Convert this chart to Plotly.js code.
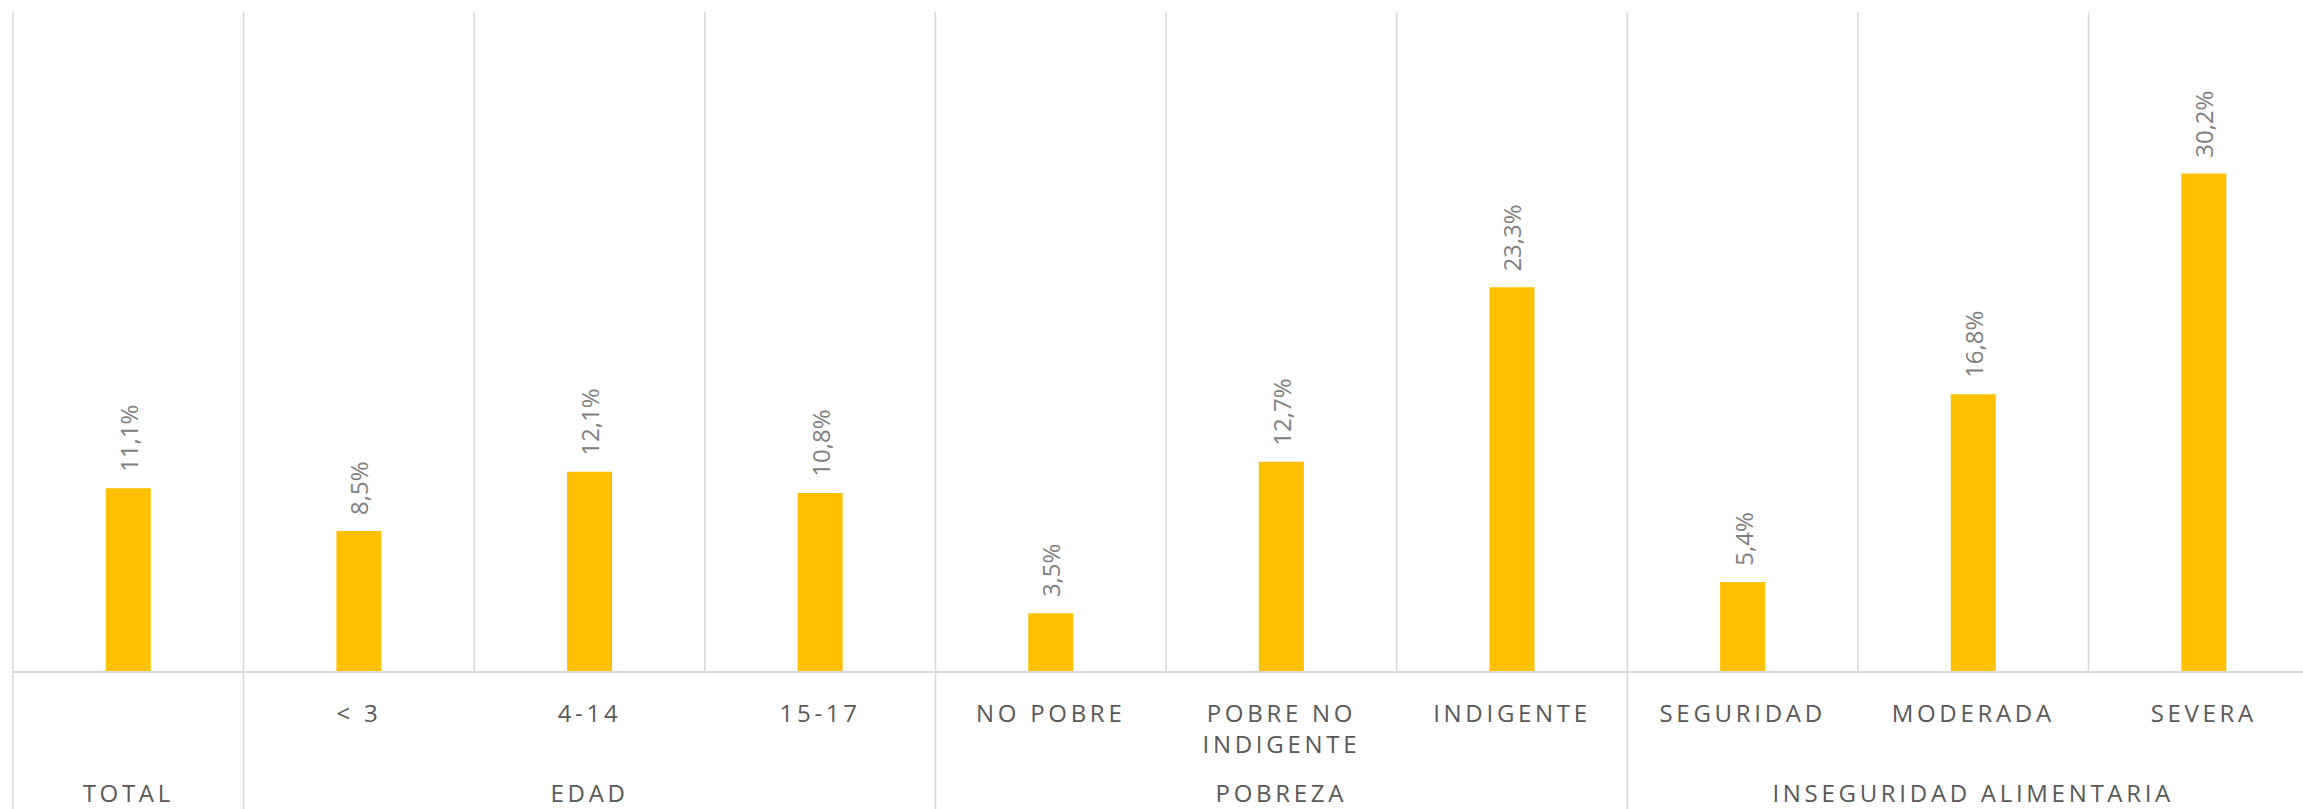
<!DOCTYPE html>
<html>
<head>
<meta charset="utf-8">
<script src="https://cdn.plot.ly/plotly-3.0.1.min.js"></script>
<style>
  html, body { margin: 0; padding: 0; background: #ffffff; }
  #chart { width: 2303px; height: 809px; }
  .xtick text, .x2tick text { letter-spacing: 3.7px; }
</style>
</head>
<body>
<div id="chart"></div>
<script>
// ---- data ----
const groups = ['TOTAL', 'EDAD', 'EDAD', 'EDAD', 'POBREZA', 'POBREZA', 'POBREZA',
                'INSEGURIDAD ALIMENTARIA', 'INSEGURIDAD ALIMENTARIA', 'INSEGURIDAD ALIMENTARIA'];
const subLabels = ['', '< 3', '4-14', '15-17', 'NO POBRE', 'POBRE NO<br>INDIGENTE', 'INDIGENTE',
                   'SEGURIDAD', 'MODERADA', 'SEVERA'];
const values = [11.1, 8.5, 12.1, 10.8, 3.5, 12.7, 23.3, 5.4, 16.8, 30.2];
const valueLabels = ['11,1%', '8,5%', '12,1%', '10,8%', '3,5%', '12,7%', '23,3%', '5,4%', '16,8%', '30,2%'];

// ---- derived ----
const idx = values.map((_, i) => i);
const xRange = [-0.5, 9.43];
const toPaper = b => (b - xRange[0]) / (xRange[1] - xRange[0]);

// group centres and names
const groupNames = [];
const groupCenters = [];
groups.forEach((g, i) => {
  if (i === 0 || groups[i - 1] !== g) { groupNames.push(g); groupCenters.push([i]); }
  else groupCenters[groupCenters.length - 1].push(i);
});
const groupPos = groupCenters.map(a => a.reduce((s, v) => s + v, 0) / a.length);

const lineColor = '#d9d9d9';
const shapes = [];
// left edge
shapes.push({type: 'line', xref: 'paper', yref: 'paper', x0: toPaper(-0.5), x1: toPaper(-0.5),
             y0: 1, y1: -0.3, line: {color: lineColor, width: 1.6}});
for (let i = 0; i < groups.length - 1; i++) {
  const b = i + 0.5;
  const isGroup = groups[i] !== groups[i + 1];
  shapes.push({type: 'line', xref: 'paper', yref: 'paper', x0: toPaper(b), x1: toPaper(b),
               y0: 1, y1: isGroup ? -0.3 : 0, line: {color: lineColor, width: 1.6}});
}

const annotations = values.map((v, i) => ({
  x: i, y: v, xref: 'x', yref: 'y', text: valueLabels[i], showarrow: false,
  textangle: -90, xanchor: 'center', yanchor: 'bottom', yshift: 14,
  font: {family: 'Open Sans, sans-serif', size: 24, color: '#808080'}
}));

const data = [
  {
    type: 'bar', x: idx, y: values, width: 0.195,
    marker: {color: '#FFC000', line: {width: 0}},
    hoverinfo: 'none', showlegend: false
  },
  {
    type: 'scatter', x: [groupPos[0]], y: [0], xaxis: 'x2', yaxis: 'y',
    mode: 'markers', marker: {opacity: 0, size: 1}, hoverinfo: 'none', showlegend: false
  }
];

const tickFont = {family: 'Open Sans, sans-serif', size: 24, color: '#595959'};

const layout = {
  width: 2303, height: 809,
  margin: {l: 13, r: 0, t: 12, b: 138, pad: 0},
  paper_bgcolor: '#ffffff', plot_bgcolor: '#ffffff',
  showlegend: false,
  xaxis: {
    type: 'linear', range: xRange, fixedrange: true,
    tickmode: 'array', tickvals: idx, ticktext: subLabels,
    tickfont: tickFont, ticks: '', showgrid: false, zeroline: false,
    showline: true, linecolor: lineColor, linewidth: 2,
    ticklabelstandoff: 20, automargin: false
  },
  xaxis2: {
    type: 'linear', range: xRange, overlaying: 'x', anchor: 'y', side: 'bottom',
    tickmode: 'array', tickvals: groupPos, ticktext: groupNames,
    tickfont: tickFont, ticks: '', showgrid: false, zeroline: false, showline: false,
    ticklabelstandoff: 106, automargin: false, fixedrange: true
  },
  yaxis: {
    range: [0, 40], visible: false, showgrid: false, zeroline: false, fixedrange: true
  },
  shapes: shapes,
  annotations: annotations
};

Plotly.newPlot('chart', data, layout, {displayModeBar: false, staticPlot: true});
</script>
</body>
</html>
